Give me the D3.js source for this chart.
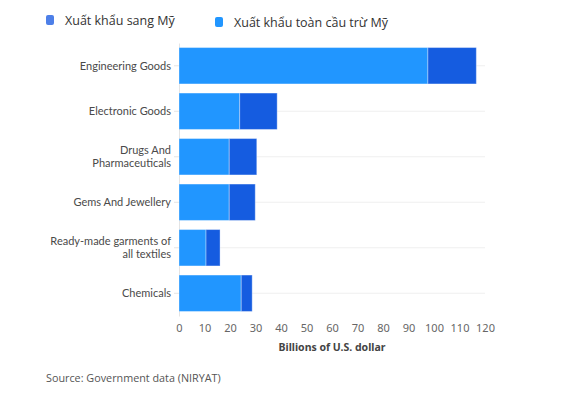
<!DOCTYPE html>
<html>
<head>
<meta charset="utf-8">
<script src="https://cdn.jsdelivr.net/npm/d3@7"></script>
<style>
  body { margin: 0; background: #fff; }
  .y-axis text { font-family: Lato, sans-serif; font-size: 11px; fill: #4a4a4a; }
  .x-axis text { font-family: "Noto Sans", sans-serif; font-size: 11px; fill: #666; }
  .legend text { font-family: "Open Sans", sans-serif; font-size: 12.5px; fill: #333; }
</style>
</head>
<body>
<div id="chart"></div>
<script>
const categories = ['Engineering Goods', 'Electronic Goods', 'Drugs And Pharmaceuticals',
    'Gems And Jewellery', 'Ready-made garments of all textiles', 'Chemicals'];
// how each category label is broken over lines
const categoryLines = [['Engineering Goods'], ['Electronic Goods'], ['Drugs And', 'Pharmaceuticals'],
    ['Gems And Jewellery'], ['Ready-made garments of', 'all textiles'], ['Chemicals']];
const seriesNames = ['Xuất khẩu toàn cầu trừ Mỹ', 'Xuất khẩu sang Mỹ'];
const globalExUS = [97.6, 23.8, 19.7, 19.7, 10.6, 24.4];
const toUS = [19.0, 14.7, 10.8, 10.2, 5.5, 4.3];
const xTicks = [0, 10, 20, 30, 40, 50, 60, 70, 80, 90, 100, 110, 120];

const data = categories.map((c, i) => ({category: c, global: globalExUS[i], us: toUS[i]}));

const width = 564, height = 395;
const margin = {top: 43, right: 79, bottom: 79, left: 179};
const innerW = width - margin.left - margin.right;
const innerH = height - margin.top - margin.bottom;

const svg = d3.select('#chart').append('svg')
    .attr('width', width)
    .attr('height', height);

const g = svg.append('g')
    .attr('transform', `translate(${margin.left}, ${margin.top})`);

const xScale = d3.scaleLinear()
    .domain([0, 120])
    .range([0, innerW]);

const yScale = d3.scaleBand()
    .domain(categories)
    .range([0, innerH])
    .paddingInner(0.2)
    .paddingOuter(0.1);

const colors = d3.scaleOrdinal()
    .domain(['global', 'us'])
    .range(['#2196ff', '#155ce0']);

// gridlines at band centres
g.selectAll('.grid')
    .data(categories)
    .enter()
    .append('line')
    .attr('class', 'grid')
    .attr('x1', 0)
    .attr('x2', innerW)
    .attr('y1', d => yScale(d) + yScale.bandwidth() / 2)
    .attr('y2', d => yScale(d) + yScale.bandwidth() / 2)
    .attr('stroke', '#efefef');

const yAxis = d3.axisLeft(yScale)
    .tickSize(5)
    .tickPadding(3)
    .tickSizeOuter(0);

const yAxisGroup = g.append('g')
    .attr('class', 'y-axis')
    .call(yAxis);
yAxisGroup.select('.domain').attr('stroke', '#e4e4e4');
yAxisGroup.selectAll('.tick line').attr('stroke', '#e4e4e4');
yAxisGroup.selectAll('.tick text').each(function(d) {
    const lines = categoryLines[categories.indexOf(d)];
    const text = d3.select(this);
    const x = text.attr('x');
    const lineH = 13.4;
    text.text(null).attr('dy', null);
    lines.forEach((l, i) => {
        text.append('tspan')
            .attr('x', x)
            .attr('dy', i === 0 ? (-(lines.length - 1) * lineH / 2 + 3.8) + 'px' : lineH + 'px')
            .text(l);
    });
});

const xAxis = d3.axisBottom(xScale)
    .tickValues(xTicks)
    .tickSize(0)
    .tickPadding(8);

const xAxisGroup = g.append('g')
    .attr('class', 'x-axis')
    .attr('transform', `translate(0, ${innerH})`)
    .call(xAxis);
xAxisGroup.select('.domain').remove();

const stack = d3.stack().keys(['global', 'us']);
const layers = stack(data);

g.selectAll('.layer')
    .data(layers)
    .enter()
    .append('g')
    .attr('class', 'layer')
    .attr('fill', d => colors(d.key))
    .selectAll('rect')
    .data(d => d)
    .enter()
    .append('rect')
    .attr('x', d => xScale(d[0]))
    .attr('y', d => yScale(d.data.category))
    .attr('width', d => xScale(d[1]) - xScale(d[0]))
    .attr('height', yScale.bandwidth())
    .attr('stroke', 'rgba(255,255,255,0.35)')
    .attr('stroke-width', 1);

g.append('text')
    .attr('x', innerW / 2)
    .attr('y', innerH + 35)
    .attr('text-anchor', 'middle')
    .attr('font-family', '"Noto Sans", sans-serif')
    .attr('font-size', 10.5)
    .attr('font-weight', 'bold')
    .attr('fill', '#444')
    .text('Billions of U.S. dollar');

// legend
const legendItems = [
    {name: seriesNames[1], color: '#4d7fe8', x: 46, y: 15},
    {name: seriesNames[0], color: '#2196ff', x: 215, y: 17}
];
const legend = svg.append('g').attr('class', 'legend');
legendItems.forEach(d => {
    legend.append('rect')
        .attr('x', d.x)
        .attr('y', d.y)
        .attr('width', 8)
        .attr('height', 10)
        .attr('rx', 2)
        .attr('fill', d.color);
    legend.append('text')
        .attr('x', d.x + 19)
        .attr('y', d.y + 10)
        .text(d.name);
});

svg.append('text')
    .attr('x', 46)
    .attr('y', 382)
    .attr('font-family', '"Open Sans", sans-serif')
    .attr('font-size', 10.8)
    .attr('fill', '#555')
    .text('Source: Government data (NIRYAT)');
</script>
</body>
</html>
